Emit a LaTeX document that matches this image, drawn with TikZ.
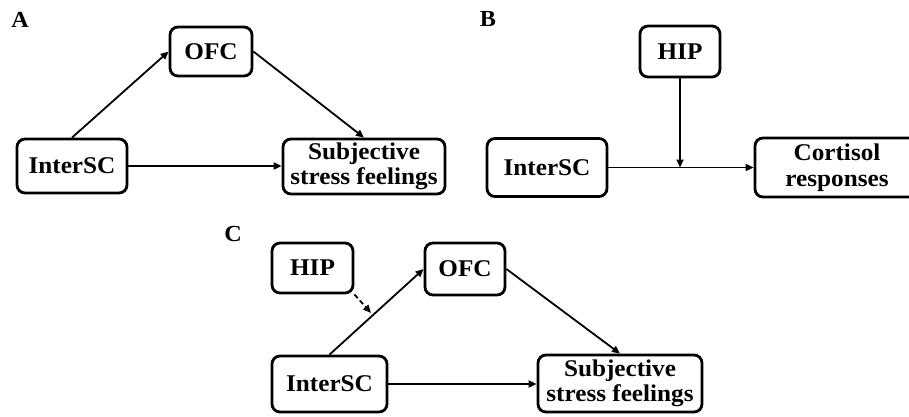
\documentclass[tikz,border=0pt]{standalone}
\usepackage{fontspec}
\setmainfont{Liberation Serif}[FakeStretch=1.05]
\usetikzlibrary{arrows.meta}
\begin{document}
\begin{tikzpicture}[x=1pt,y=-1pt,
  box/.style={draw,line width=2.8pt,rounded corners=8pt,inner sep=0pt,align=center,
    font=\fontsize{24}{25.5}\selectfont\bfseries},
  lab/.style={font=\fontsize{23}{25}\selectfont\bfseries,inner sep=0pt},
  arr/.style={line width=1.8pt,-{Triangle[length=8pt,width=7pt]}},
  darr/.style={arr,dash pattern=on 5pt off 3pt}]
\useasboundingbox (0,0) rectangle (909,416);
\begin{scope}
\clip (0,0) rectangle (909,416);
% Panel A
\node[lab] (la) at (20,20) {A};
\node[box,minimum width=82pt,minimum height=49pt] (ofcA) at (211,51.5) {OFC};
\node[box,minimum width=110pt,minimum height=54pt] (intA) at (72,166) {InterSC};
\node[box,minimum width=162pt,minimum height=55pt] (subA) at (364,166.5) {Subjective\\stress feelings};
\draw[arr] (intA.north) -- (ofcA.west);
\draw[arr] (ofcA.east) -- (subA.north);
\draw[arr] (intA.east) -- (intA.east -| subA.west);
% Panel B
\node[lab] (lb) at (488,19) {B};
\node[box,minimum width=80pt,minimum height=51pt] (hipB) at (680,51.5) {HIP};
\node[box,minimum width=120pt,minimum height=58pt] (intB) at (547,167.5) {InterSC};
\node[box,minimum width=164pt,minimum height=59pt] (corB) at (837,167.5) {Cortisol\\responses};
\coordinate (mB) at (680,167.5);
\draw[arr] (intB.east) -- (corB.west);
\draw[arr] (hipB.south) -- (mB);
% Panel C
\node[lab] (lc) at (233,234) {C};
\node[box,minimum width=81pt,minimum height=50pt] (hipC) at (312.5,268) {HIP};
\node[box,minimum width=80pt,minimum height=52pt] (ofcC) at (465,269) {OFC};
\node[box,minimum width=115pt,minimum height=56pt] (intC) at (329.5,384) {InterSC};
\node[box,minimum width=164pt,minimum height=57pt] (subC) at (620,383.5) {Subjective\\stress feelings};
\coordinate (mC) at (371,313);
\draw[arr] (intC.north) -- (ofcC.west);
\draw[arr] (ofcC.east) -- (subC.north);
\draw[arr] (intC.east) -- (intC.east -| subC.west);
\draw[darr] (hipC.south east) -- (mC);
\end{scope}
\end{tikzpicture}
\end{document}
